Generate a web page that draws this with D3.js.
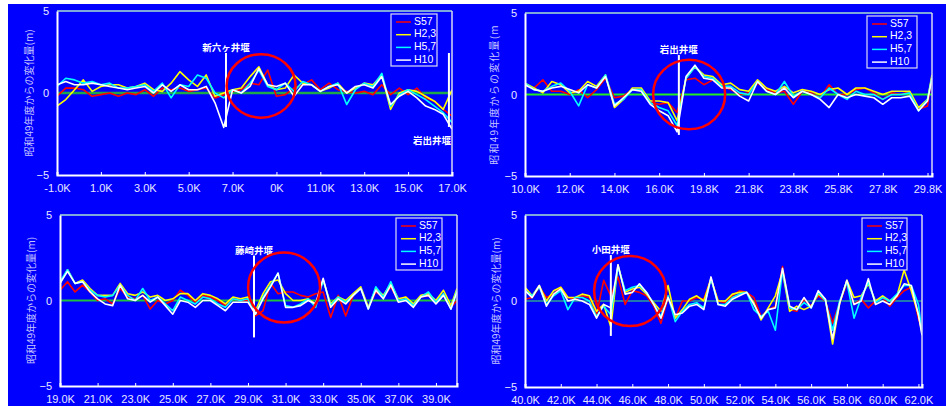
<!DOCTYPE html>
<html><head><meta charset="utf-8">
<script src="https://cdn.jsdelivr.net/npm/d3@7"></script>
<style>body{margin:0;background:#fff;} svg{display:block;}</style>
</head><body><svg id="c" width="946" height="406"></svg>
<script>
const seriesNames = ["S57","H2,3","H5,7","H10"];
const seriesColors = ["#ff0000","#ffff00","#00ffff","#ffffff"];
const yTickValues = [-5,0,5];
const yTitle = "昭和49年度からの変化量(m)";

// Panel 1: -1.0K .. 17.0K (one value every 0.4K)
const p1Ticks = ["-1.0K","1.0K","3.0K","5.0K","7.0K","0K","11.0K","13.0K","15.0K","17.0K"];
const p1S57 = [-0.2,0.3,0.3,0.2,-0.2,-0.1,0.0,-0.2,0.0,-0.1,0.2,-0.2,0.3,0.2,0.3,0.1,0.2,0.3,-0.3,-0.1,0.1,0.2,0.6,0.5,1.4,-0.2,-0.1,0.3,0.5,0.8,0.2,0.6,0.2,0.1,0.0,0.1,-0.1,0.5,-0.1,0.3,-0.1,0.3,-0.3,-0.5,-1.0,-1.4];
const p1H23 = [-0.8,-0.4,0.2,0.8,0.1,0.4,0.5,0.5,0.3,0.4,0.6,0.2,0.1,0.6,1.3,0.8,0.4,1.1,-0.2,0.0,0.2,0.3,1.0,1.6,0.5,0.2,0.3,1.1,0.6,0.5,0.1,0.3,0.6,0.0,0.3,0.6,0.5,1.1,-1.0,0.0,0.2,0.1,-0.2,-0.5,-1.0,0.2];
const p1H57 = [0.4,0.9,0.8,0.6,0.7,0.5,0.6,0.3,0.3,0.4,0.5,0.1,0.6,-0.3,0.5,0.4,1.1,0.9,0.0,-0.3,0.2,0.0,0.6,1.4,0.4,0.2,0.6,0.1,0.7,0.5,0.1,0.4,0.6,-0.7,0.2,0.6,0.4,1.2,-0.8,-0.1,0.2,-0.1,-0.4,-0.8,-1.2,-1.8];
const p1H10 = [0.5,0.7,0.5,0.5,0.6,0.5,0.4,0.3,0.2,0.3,0.4,0.0,0.5,0.1,0.5,0.2,0.2,0.4,-0.6,-2.1,0.2,0.0,0.4,1.5,0.5,0.4,0.6,-0.2,0.5,0.5,0.1,0.4,0.5,0.0,0.4,0.5,0.3,1.0,-0.7,-0.2,0.1,-0.3,-0.8,-1.0,-1.3,-2.2];

// Panel 2: 10.0K .. 29.8K
const p2Ticks = ["10.0K","12.0K","14.0K","16.0K","19.8K","21.8K","23.8K","25.8K","27.8K","29.8K"];
const p2S57 = [0.6,0.4,0.9,0.2,0.2,0.0,0.3,-0.2,0.3,1.0,-0.2,-0.1,0.3,0.3,-0.5,-0.6,-0.5,-1.1,0.9,1.0,0.6,0.9,0.5,0.3,0.0,0.1,0.7,0.3,0.1,0.2,-0.6,0.2,0.1,-0.2,0.6,0.0,0.0,0.3,0.4,0.1,-0.3,0.1,0.0,0.2,-0.9,-0.7,1.2];
const p2H23 = [0.7,0.4,0.1,0.8,0.6,0.1,0.2,0.8,0.5,1.2,-0.8,-0.3,0.4,0.4,-0.4,-0.4,-0.5,-1.6,1.0,1.7,1.2,1.1,0.6,0.7,0.3,0.2,0.9,0.4,0.2,0.5,0.1,0.3,0.2,0.0,0.3,0.4,0.0,0.4,0.4,0.2,0.0,0.2,0.2,0.2,-0.8,-0.3,1.2];
const p2H57 = [0.7,0.3,0.2,0.5,0.7,0.2,-0.7,0.6,0.4,1.2,-0.6,-0.3,0.3,0.3,-0.5,-0.8,-1.0,-1.9,1.0,1.7,1.1,1.0,0.5,0.5,0.1,0.0,0.8,0.2,0.0,0.8,-0.1,0.2,0.0,-0.2,0.4,0.0,-0.3,0.2,0.0,0.0,-0.3,0.0,0.0,0.1,-1.0,-0.3,1.1];
const p2H10 = [0.6,0.3,0.2,0.4,0.5,0.3,0.1,0.6,0.4,1.1,-0.7,-0.2,0.3,0.2,-0.6,-1.0,-1.3,-2.3,1.1,1.8,1.0,0.9,0.4,0.4,-0.1,-0.4,0.8,0.2,0.0,0.4,-0.2,0.2,0.0,-0.3,-0.8,0.0,-0.2,0.0,-0.1,-0.2,-0.6,-0.2,-0.2,-0.1,-1.0,-0.4,1.0];

// Panel 3: 19.0K .. 40.0K
const p3Ticks = ["19.0K","21.0K","23.0K","25.0K","27.0K","29.0K","31.0K","33.0K","35.0K","37.0K","39.0K"];
const p3S57 = [0.6,1.1,0.5,0.9,0.5,0.0,0.1,-0.2,0.7,0.2,0.1,0.3,-0.5,0.0,-0.2,0.0,0.6,0.3,-0.1,0.3,0.2,0.0,-0.3,0.1,0.0,0.0,-0.9,-0.6,1.0,0.4,0.5,0.5,0.3,0.2,0.4,0.5,-1.0,0.3,-0.9,0.3,0.7,-0.4,0.5,0.2,0.8,0.0,0.2,-0.3,0.2,0.3,-0.1,0.3,-0.4,0.0];
const p3H23 = [1.0,1.8,1.0,1.2,0.7,0.3,0.3,0.3,1.0,0.4,0.3,0.5,0.2,0.3,0.0,0.1,0.4,0.4,0.0,0.4,0.3,0.1,-0.2,0.2,0.1,0.2,-0.6,0.4,1.1,1.2,0.4,0.0,0.0,0.1,-0.2,1.2,-0.2,0.2,0.0,0.4,0.8,-0.4,0.7,0.3,1.0,0.1,0.2,-0.2,0.3,0.4,0.0,0.6,-0.3,0.7];
const p3H57 = [1.1,1.8,1.0,1.1,0.6,0.3,0.2,0.3,0.9,0.3,0.0,0.7,0.0,0.2,-0.2,-0.6,0.2,0.0,-0.2,0.2,0.1,-0.2,-0.4,0.1,0.0,0.1,-0.8,0.2,0.9,1.6,-0.3,-0.4,-0.2,0.1,-0.4,1.2,-0.3,0.2,-0.1,0.3,0.7,-0.5,0.8,0.2,1.1,0.0,0.1,-0.3,0.2,0.5,-0.1,0.4,-0.5,0.6];
const p3H10 = [1.0,1.7,1.0,1.1,0.5,0.1,-0.2,-0.3,0.9,0.1,0.0,0.3,-0.1,0.2,-0.3,-0.8,0.0,-0.1,-0.4,0.0,0.0,-0.3,-0.6,-0.1,-0.1,-0.1,-0.8,0.1,0.8,1.6,-0.4,-0.4,-0.3,0.0,-0.2,1.3,-0.4,0.1,-0.2,0.3,0.7,-0.5,0.6,0.1,0.9,-0.1,0.0,-0.4,0.2,0.3,-0.2,0.3,-0.5,0.5];

// Panel 4: 40.0K .. 62.2K
const p4Ticks = ["40.0K","42.0K","44.0K","46.0K","48.0K","50.0K","52.0K","54.0K","56.0K","58.0K","60.0K","62.0K"];
const p4S57 = [0.1,0.2,0.8,0.2,0.4,0.8,0.2,0.1,0.3,0.2,-0.8,1.2,0.3,1.4,-0.2,0.6,0.5,0.3,-0.3,-1.3,0.2,-1.0,0.0,0.0,0.2,0.1,1.3,0.0,-0.1,0.3,0.6,0.5,0.2,-0.9,-0.5,-0.3,2.0,-0.5,-0.6,0.1,-0.3,0.3,0.0,-1.3,-0.1,1.0,-0.2,0.1,-0.4,0.0,0.2,-0.3,0.2,0.6,0.8,-1.0,-1.7];
const p4H23 = [0.8,0.3,0.9,0.0,0.6,0.8,0.2,0.2,0.4,0.3,-0.6,-0.2,-1.5,2.1,0.5,0.7,0.8,0.4,-0.1,-0.6,0.9,-1.0,-0.5,0.1,0.3,0.0,1.3,0.0,0.0,0.4,0.5,0.5,-0.1,-1.1,-0.4,0.3,1.7,-0.6,-0.3,-0.5,-0.3,0.4,0.1,-2.5,-0.1,1.2,0.2,0.3,1.0,0.0,0.3,0.0,0.3,1.8,0.6,-0.8,-1.8];
const p4H57 = [0.6,0.3,0.8,-0.2,0.3,0.6,-0.5,0.2,0.2,0.0,-0.9,-0.3,-0.8,2.0,0.6,0.8,0.9,0.5,-0.2,-0.9,0.3,-1.2,-0.6,-0.2,-0.1,-0.4,1.3,-0.2,-0.2,0.2,0.4,0.5,-0.5,-0.9,-0.6,-1.7,1.8,-0.4,-0.5,-0.1,-0.4,0.5,0.0,-1.7,0.0,1.1,-1.0,0.2,1.1,-0.1,0.2,0.0,0.4,0.9,0.9,-0.2,-1.9];
const p4H10 = [0.6,0.2,0.9,-0.3,0.4,0.7,0.0,0.1,0.0,-0.2,-1.0,-0.2,-0.4,2.1,0.4,0.5,1.0,0.5,-0.2,-1.0,0.2,-0.8,-0.7,-0.3,-0.2,-0.5,1.4,-0.2,-0.3,0.1,0.3,0.5,-0.2,-1.0,-0.5,-0.4,1.9,-0.3,-0.5,0.2,-0.4,0.6,0.1,-2.2,-0.1,1.2,-0.2,0.0,1.3,-0.2,0.0,-0.2,0.3,1.0,0.9,-0.8,-2.0];

// Weir annotations (category position, top/bottom value)
const p1Weirs = [{cat:38.5, top:2.44, bot:-2.07, label:"新六ヶ井堰", where:"top"},
                 {cat:89.3, top:2.44, bot:-2.07, label:"岩出井堰", where:"bottom"}];
const p2Weirs = [{cat:34.4, top:2.42, bot:-2.48, label:"岩出井堰", where:"top"}];
const p3Weirs = [{cat:51.6, top:2.63, bot:-2.16, label:"藤崎井堰", where:"top"}];
const p4Weirs = [{cat:24.0, top:2.67, bot:-2.03, label:"小田井堰", where:"top"}];

const panels = [
  {x0:57, x1:452, yT:11, yB:175, catMax:90, ticks:p1Ticks, data:[p1S57,p1H23,p1H57,p1H10], weirs:p1Weirs,
   circle:{cat:46.5, val:0.43, rx:34.5, ry:31.7}, titleX:30, titleSpacing:0, zero:["#1fa84a",2.4], legW:46},
  {x0:525, x1:932, yT:13, yB:176, catMax:91, ticks:p2Ticks, data:[p2S57,p2H23,p2H57,p2H10], weirs:p2Weirs,
   circle:{cat:36.7, val:0.0, rx:36, ry:34.7}, titleX:495, titleSpacing:1.2, zero:["#22ee22",2], legW:50, title:"昭和49年度からの変化量(m"},
  {x0:60, x1:457, yT:215, yB:386, catMax:105.6, ticks:p3Ticks, data:[p3S57,p3H23,p3H57,p3H10], weirs:p3Weirs,
   circle:{cat:59.6, val:0.76, rx:36, ry:35}, titleX:32, titleSpacing:0, zero:["#20c040",2], legW:46},
  {x0:525, x1:922, yT:215, yB:387, catMax:111, ticks:p4Ticks, data:[p4S57,p4H23,p4H57,p4H10], weirs:p4Weirs,
   circle:{cat:29.4, val:0.58, rx:36, ry:35}, titleX:497, titleSpacing:0, zero:["#40f060",1.2], legW:45}
];

const svg = d3.select("#c");
svg.append("rect").attr("x",8).attr("y",4).attr("width",938).attr("height",402).attr("fill","#0000ff");

const font = "'Liberation Sans', Arial, sans-serif";
const jfont = "'Noto Sans CJK JP', sans-serif";

panels.forEach((p, pi) => {
  const g = svg.append("g");
  const x = d3.scaleLinear().domain([0, p.catMax]).range([p.x0, p.x1]);
  const y = d3.scaleLinear().domain([-5, 5]).range([p.yB, p.yT]);
  const clipId = "clip" + pi;
  svg.append("clipPath").attr("id", clipId).append("rect")
    .attr("x", p.x0).attr("y", p.yT).attr("width", p.x1 - p.x0).attr("height", p.yB - p.yT);

  // zero line
  g.append("line").attr("x1", p.x0).attr("x2", p.x1).attr("y1", y(0)).attr("y2", y(0))
    .attr("stroke", p.zero[0]).attr("stroke-width", p.zero[1]);

  // series
  const line = d3.line().x((d, i) => x(Math.min(2 * i, p.catMax))).y(d => y(d));
  p.data.forEach((arr, si) => {
    g.append("path").attr("d", line(arr)).attr("fill", "none")
      .attr("stroke", seriesColors[si]).attr("stroke-width", 1.6)
      .attr("stroke-linejoin", "round").attr("clip-path", `url(#${clipId})`);
  });

  // plot frame
  g.append("line").attr("x1", p.x0).attr("x2", p.x1).attr("y1", p.yT).attr("y2", p.yT)
    .attr("stroke", "#a8e0cc").attr("stroke-width", 1.5);
  g.append("line").attr("x1", p.x1).attr("x2", p.x1).attr("y1", p.yT).attr("y2", p.yB)
    .attr("stroke", "#d8d8f0").attr("stroke-width", 1.5);

  // x axis
  const xa = d3.axisBottom(x).tickValues(p.ticks.map((_, k) => 10 * k))
    .tickFormat((d, k) => p.ticks[k]).tickSize(-3).tickPadding(9);
  const gx = g.append("g").attr("transform", `translate(0,${p.yB})`).call(xa);
  gx.select(".domain").attr("stroke", "#ffffff").attr("stroke-width", 2);
  gx.selectAll(".tick line").attr("stroke", "#ffffff").attr("stroke-width", 1);
  gx.selectAll(".tick text").attr("fill", "#e8e8ff").style("font-family", font).style("font-size", "11px");

  // y axis
  const ya = d3.axisLeft(y).tickValues(yTickValues).tickSize(0).tickPadding(8);
  const gy = g.append("g").attr("transform", `translate(${p.x0},0)`).call(ya);
  gy.select(".domain").attr("stroke", "#ffffff").attr("stroke-width", 2);
  gy.selectAll(".tick text").attr("fill", "#e8e8ff").style("font-family", font).style("font-size", "11px");

  // y title
  g.append("text").attr("transform", `translate(${p.titleX},${(p.yT + p.yB) / 2}) rotate(-90)`)
    .attr("text-anchor", "middle").attr("dominant-baseline", "middle")
    .attr("fill", "#c4c4ff").style("font-family", jfont).style("font-size", "10px")
    .style("letter-spacing", p.titleSpacing + "px")
    .text(p.title || yTitle);

  // weirs
  p.weirs.forEach(w => {
    g.append("line").attr("x1", x(w.cat)).attr("x2", x(w.cat)).attr("y1", y(w.top)).attr("y2", y(w.bot))
      .attr("stroke", "#ffffff").attr("stroke-width", 2);
    const t = g.append("text").attr("fill", "#ffffff").style("font-family", jfont)
      .style("font-size", "9.5px").style("font-weight", "bold").text(w.label);
    if (w.where === "top") {
      t.attr("x", x(w.cat)).attr("y", y(w.top) - 2).attr("text-anchor", "middle");
    } else {
      t.attr("x", p.x1 - 1).attr("y", y(w.bot) + 17).attr("text-anchor", "end");
    }
  });

  // circle
  g.append("ellipse").attr("cx", x(p.circle.cat)).attr("cy", y(p.circle.val))
    .attr("rx", p.circle.rx).attr("ry", p.circle.ry)
    .attr("fill", "none").attr("stroke", "#ff0000").attr("stroke-width", 2.5);

  // legend
  const lx = p.x1 - 15 - p.legW, ly = p.yT + 3;
  const lg = g.append("g").attr("transform", `translate(${lx},${ly})`);
  lg.append("rect").attr("width", p.legW).attr("height", 52).attr("fill", "#0000ff")
    .attr("stroke", "#dcdcf4").attr("stroke-width", 1.2);
  seriesNames.forEach((n, si) => {
    const yy = 8 + si * 12.7;
    lg.append("line").attr("x1", 5).attr("x2", 20).attr("y1", yy).attr("y2", yy)
      .attr("stroke", seriesColors[si]).attr("stroke-width", 1.5);
    lg.append("text").attr("x", 23).attr("y", yy).attr("dominant-baseline", "middle")
      .attr("fill", "#ffffff").style("font-family", font).style("font-size", "10.5px").text(n);
  });
});
</script>
</body></html>
